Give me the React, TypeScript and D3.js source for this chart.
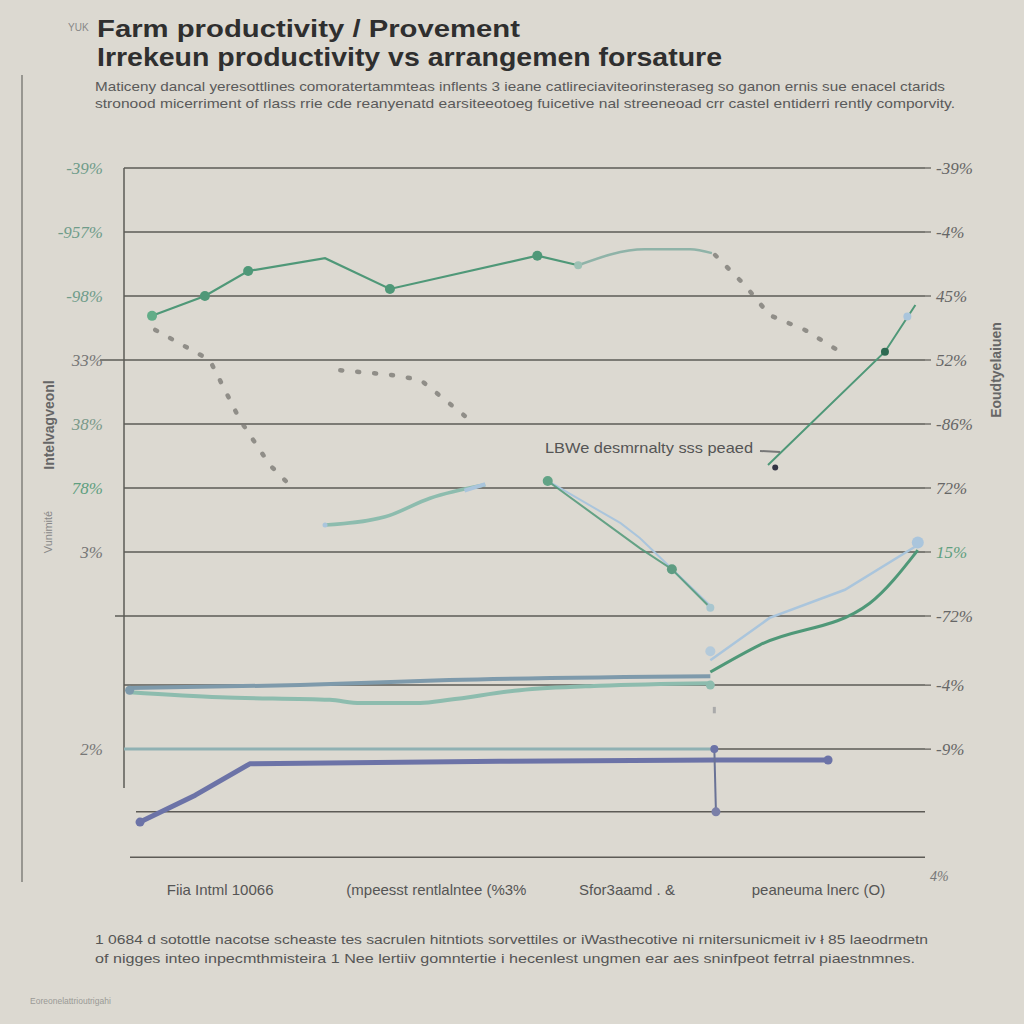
import React from "react";
import * as d3 from "d3";

// ---------- data ----------
const gridValues = [100, 90, 80, 70, 60, 50, 40, 30, 19.2, 9.2, -0.6];
const baseValue = -7.7;

const leftTicks = [
  { v: 100, t: "-39%", c: "#6f9c8a" },
  { v: 90, t: "-957%", c: "#6f9c8a" },
  { v: 80, t: "-98%", c: "#6f9c8a" },
  { v: 70, t: "33%", c: "#777" },
  { v: 60, t: "38%", c: "#7a9a8a" },
  { v: 50, t: "78%", c: "#5f9f80" },
  { v: 40, t: "3%", c: "#777" },
  { v: 9.2, t: "2%", c: "#777" },
];
const rightTicks = [
  { v: 100, t: "-39%" },
  { v: 90, t: "-4%" },
  { v: 80, t: "45%" },
  { v: 70, t: "52%" },
  { v: 60, t: "-86%" },
  { v: 50, t: "72%" },
  { v: 40, t: "15%" },
  { v: 30, t: "-72%" },
  { v: 19.2, t: "-4%" },
  { v: 9.2, t: "-9%" },
];
const xLabels = [
  { v: 12, t: "Fiia Intml 10066" },
  { v: 39, t: "(mpeesst rentlalntee (%3%" },
  { v: 62.8, t: "Sfor3aamd . &" },
  { v: 86.7, t: "peaneuma lnerc (O)" },
];

const greenTop: [number, number][] = [
  [3.5, 76.9], [10.1, 80], [15.5, 83.9], [25.1, 85.9], [33.2, 81.1], [51.6, 86.3], [56.7, 84.8],
];
const greenTopFade: [number, number][] = [
  [56.7, 84.8], [65.0, 87.3], [70.7, 87.3], [73.4, 86.7],
];
const greenTopMarkers: [number, number][] = [
  [3.5, 76.9], [10.1, 80], [15.5, 83.9], [33.2, 81.1], [51.6, 86.3],
];
const dotted1: [number, number][] = [[3.9, 74.7], [10.7, 70], [14.5, 60.6], [18.2, 53.6], [21.3, 49.7]];
const dotted2: [number, number][] = [[27, 68.4], [33.2, 67.7], [37, 66.9], [43.2, 60.6]];
const dotted3: [number, number][] = [[73.8, 86.4], [77.5, 81.7], [80.6, 77], [85, 74.7], [89.4, 71.3]];
const greenRise: [number, number][] = [[80.4, 53.6], [95, 71.3], [98.8, 78.6]];
const tealMid: [number, number][] = [[25.1, 44.2], [32.6, 45.5], [38.2, 48.4], [45.1, 50.5]];
const greenDesc: [number, number][] = [[52.9, 51.1], [64.4, 40.6], [68.4, 37.3], [73.2, 31.3]];
const blueDesc: [number, number][] = [[52.9, 51.1], [62, 44.5], [64.4, 42.2], [73.2, 31.6]];
const blueGrayFlat: [number, number][] = [[0.7, 18.75], [22, 19.2], [40.6, 20], [73.2, 20.6]];
const tealFlat: [number, number][] = [[0.7, 18.1], [12, 17.3], [25.7, 16.9], [29.5, 16.4], [37, 16.4], [40.6, 16.9], [49.4, 18.4], [59.4, 19.1], [73.2, 19.5]];
const greenLowRise: [number, number][] = [[73.2, 21.25], [79.4, 25.5], [93.1, 32], [99.1, 40.3]];
const blueLowRise: [number, number][] = [[73.2, 23.1], [80.6, 29.7], [90, 34.1], [99.1, 41.1]];
const tealHoriz: [number, number][] = [[0, 9.2], [73.8, 9.2]];
const purple: [number, number][] = [[2, -2.2], [8.9, 2], [15.7, 6.9], [46.9, 7.3], [73.8, 7.5], [87.9, 7.5]];
const purpleVert: [number, number][] = [[73.7, 9.2], [73.9, -0.6]];

// ---------- layout ----------
const W = 1024;
const H = 1024;
const x = d3.scaleLinear().domain([0, 100]).range([124, 925]);
const y = d3.scaleLinear().domain([0, 100]).range([808, 168]);
const line = d3.line<[number, number]>().x((d) => x(d[0])).y((d) => y(d[1]));
const smooth = d3.line<[number, number]>().x((d) => x(d[0])).y((d) => y(d[1])).curve(d3.curveMonotoneX);

const BG = "#dcd9d1";
const GRID = "#5d5b56";
const GREEN = "#4f9878";
const TEAL = "#8dbcae";
const LBLUE = "#aac5dc";
const BGRAY = "#7e9aab";
const PURPLE = "#6c73a7";

export default function App() {
  return (
    <svg width={W} height={H} style={{ display: "block", position: "absolute", left: 0, top: 0, background: BG }}>
      <rect width={W} height={H} fill={BG} />
      {/* header */}
      <text x={68} y={31} fontSize={10} fill="#888" fontFamily="Liberation Sans">YUK</text>
      <text x={97} y={37} fontSize={24} fontWeight="bold" fill="#2f2f2f" fontFamily="Liberation Sans" textLength={423} lengthAdjust="spacingAndGlyphs">Farm productivity / Provement</text>
      <text x={97} y={66} fontSize={25} fontWeight="bold" fill="#2f2f2f" fontFamily="Liberation Sans" textLength={625} lengthAdjust="spacingAndGlyphs">Irrekeun productivity vs arrangemen forsature</text>
      <text x={95} y={91} fontSize={13.5} fill="#5a5a5a" fontFamily="Liberation Sans Narrow, Liberation Sans" textLength={850} lengthAdjust="spacingAndGlyphs">Maticeny dancal yeresottlines comoratertammteas inflents 3 ieane catlireciaviteorinsteraseg so ganon ernis sue enacel ctarids</text>
      <text x={95} y={108} fontSize={13.5} fill="#5a5a5a" fontFamily="Liberation Sans Narrow, Liberation Sans" textLength={860} lengthAdjust="spacingAndGlyphs">stronood micerriment of rlass rrie cde reanyenatd earsiteeotoeg fuicetive nal streeneoad crr castel entiderri rently comporvity.</text>

      {/* frame lines */}
      <line x1={22} y1={75} x2={22} y2={882} stroke="#6a6a66" strokeWidth={1.2} />
      <line x1={124} y1={168} x2={124} y2={788} stroke={GRID} strokeWidth={1.5} />

      {/* gridlines */}
      {gridValues.map((v, i) => (
        <line key={i} x1={v === 70 ? 100 : v === 30 ? 115 : v === -0.6 ? 136 : 124} x2={925} y1={y(v)} y2={y(v)} stroke={GRID} strokeWidth={1.5} />
      ))}
      <line x1={130} x2={925} y1={y(baseValue)} y2={y(baseValue)} stroke={GRID} strokeWidth={1.5} />
      {rightTicks.map((d, i) => (
        <line key={i} x1={925} x2={931} y1={y(d.v)} y2={y(d.v)} stroke={GRID} strokeWidth={1.2} />
      ))}

      {/* left tick labels */}
      {leftTicks.map((d, i) => (
        <text key={i} x={103} y={y(d.v) + 6} textAnchor="end" fontSize={17} fill={d.c} fontFamily="Liberation Serif" fontStyle="italic">{d.t}</text>
      ))}
      {/* right tick labels */}
      {rightTicks.map((d, i) => (
        <text key={i} x={936} y={y(d.v) + 6} fontSize={17} fill={i === 6 ? "#5f9f80" : "#666"} fontFamily="Liberation Serif" fontStyle="italic">{d.t}</text>
      ))}
      <text x={930} y={881} fontSize={14} fill="#777" fontFamily="Liberation Serif" fontStyle="italic">4%</text>

      {/* axis titles */}
      <text transform="translate(54,425) rotate(-90)" textAnchor="middle" fontSize={14} fontWeight="bold" fill="#666" fontFamily="Liberation Sans">Intelvagveonl</text>
      <text transform="translate(52,532) rotate(-90)" textAnchor="middle" fontSize={11} fill="#888" fontFamily="Liberation Sans">Vunimité</text>
      <text transform="translate(1001,370) rotate(-90)" textAnchor="middle" fontSize={14} fontWeight="bold" fill="#666" fontFamily="Liberation Sans">Eoudtyelaiuen</text>

      {/* dotted series */}
      {[dotted1, dotted2, dotted3].map((s, i) => (
        <path key={i} d={line(s) || ""} fill="none" stroke="#7d7b75" strokeWidth={4.5} strokeDasharray="2 15" strokeLinecap="round" opacity={0.8} />
      ))}

      {/* lines */}
      <path d={line(greenTop) || ""} fill="none" stroke={GREEN} strokeWidth={2.2} />
      <path d={smooth(greenTopFade) || ""} fill="none" stroke="#8fb3a8" strokeWidth={2.5} />
      {greenTopMarkers.map((d, i) => (
        <circle key={i} cx={x(d[0])} cy={y(d[1])} r={5} fill={i === 0 ? "#62ad88" : GREEN} />
      ))}
      <circle cx={x(56.7)} cy={y(84.8)} r={4} fill="#9cc1b4" />

      <path d={line(greenRise) || ""} fill="none" stroke={GREEN} strokeWidth={2} />
      <circle cx={x(95)} cy={y(71.3)} r={4} fill="#2f6a52" />
      <circle cx={x(97.8)} cy={y(76.8)} r={4} fill={LBLUE} />
      <circle cx={x(81.3)} cy={y(53.2)} r={3} fill="#334" />

      <path d={smooth(tealMid) || ""} fill="none" stroke={TEAL} strokeWidth={3.5} />
      <path d={line([[42.5, 49.6], [45.1, 50.6]]) || ""} stroke={LBLUE} strokeWidth={4} />
      <circle cx={x(25.1)} cy={y(44.2)} r={2.5} fill={LBLUE} />

      <path d={line(blueDesc) || ""} fill="none" stroke={LBLUE} strokeWidth={2} />
      <path d={line(greenDesc) || ""} fill="none" stroke={GREEN} strokeWidth={2} opacity={0.85} />
      <circle cx={x(52.9)} cy={y(51.1)} r={5} fill="#62a386" />
      <circle cx={x(68.4)} cy={y(37.3)} r={5} fill="#5e9c82" />
      <circle cx={x(73.2)} cy={y(31.3)} r={4} fill="#a8c6cf" />

      <path d={smooth(tealFlat) || ""} fill="none" stroke={TEAL} strokeWidth={4} />
      <path d={smooth(blueGrayFlat) || ""} fill="none" stroke={BGRAY} strokeWidth={4} />
      <circle cx={x(0.7)} cy={y(18.4)} r={4.5} fill={BGRAY} />
      <circle cx={x(73.2)} cy={y(19.2)} r={4.5} fill={TEAL} />

      <path d={line(blueLowRise) || ""} fill="none" stroke={LBLUE} strokeWidth={2.5} />
      <path d={smooth(greenLowRise) || ""} fill="none" stroke={GREEN} strokeWidth={3} />
      <circle cx={x(99.1)} cy={y(41.5)} r={6} fill={LBLUE} />
      <circle cx={x(73.2)} cy={y(24.5)} r={5} fill={LBLUE} opacity={0.8} />

      <path d={line(tealHoriz) || ""} fill="none" stroke="#8fb1b3" strokeWidth={3} />
      <path d={line(purple) || ""} fill="none" stroke={PURPLE} strokeWidth={5} strokeLinejoin="round" />
      <circle cx={x(2)} cy={y(-2.2)} r={4.5} fill={PURPLE} />
      <circle cx={x(87.9)} cy={y(7.5)} r={4.5} fill={PURPLE} />
      <path d={line(purpleVert) || ""} fill="none" stroke="#6a7396" strokeWidth={2} />
      <circle cx={x(73.7)} cy={y(9.2)} r={4} fill={PURPLE} />
      <circle cx={x(73.9)} cy={y(-0.6)} r={4.5} fill="#7a7fa8" />
      <line x1={x(73.7)} x2={x(73.7)} y1={y(15.8)} y2={y(14.8)} stroke="#aaa" strokeWidth={3} />

      {/* inline legend */}
      <text x={545} y={453} fontSize={14.5} fill="#555" fontFamily="Liberation Sans Narrow, Liberation Sans" textLength={208} lengthAdjust="spacingAndGlyphs">LBWe desmrnalty sss peaed</text>
      <line x1={760} x2={780} y1={451} y2={452} stroke="#777" strokeWidth={2} />

      {/* x labels */}
      {xLabels.map((d, i) => (
        <text key={i} x={x(d.v)} y={895} textAnchor="middle" fontSize={15} fill="#555" fontFamily="Liberation Sans Narrow, Liberation Sans">{d.t}</text>
      ))}

      {/* footer */}
      <text x={95} y={944} fontSize={13.5} fill="#555" fontFamily="Liberation Sans Narrow, Liberation Sans" textLength={833} lengthAdjust="spacingAndGlyphs">1 0684 d sotottle nacotse scheaste tes sacrulen hitntiots sorvettiles or iWasthecotive ni rnitersunicmeit iv ł 85 laeodrmetn</text>
      <text x={95} y={963} fontSize={13.5} fill="#555" fontFamily="Liberation Sans Narrow, Liberation Sans" textLength={820} lengthAdjust="spacingAndGlyphs">of nigges inteo inpecmthmisteira 1 Nee lertiiv gomntertie i hecenlest ungmen ear aes sninfpeot fetrral piaestnmnes.</text>
      <text x={30} y={1004} fontSize={8.5} fill="#9a9a96" fontFamily="Liberation Sans">Eoreonelattrioutrigahi</text>
    </svg>
  );
}
